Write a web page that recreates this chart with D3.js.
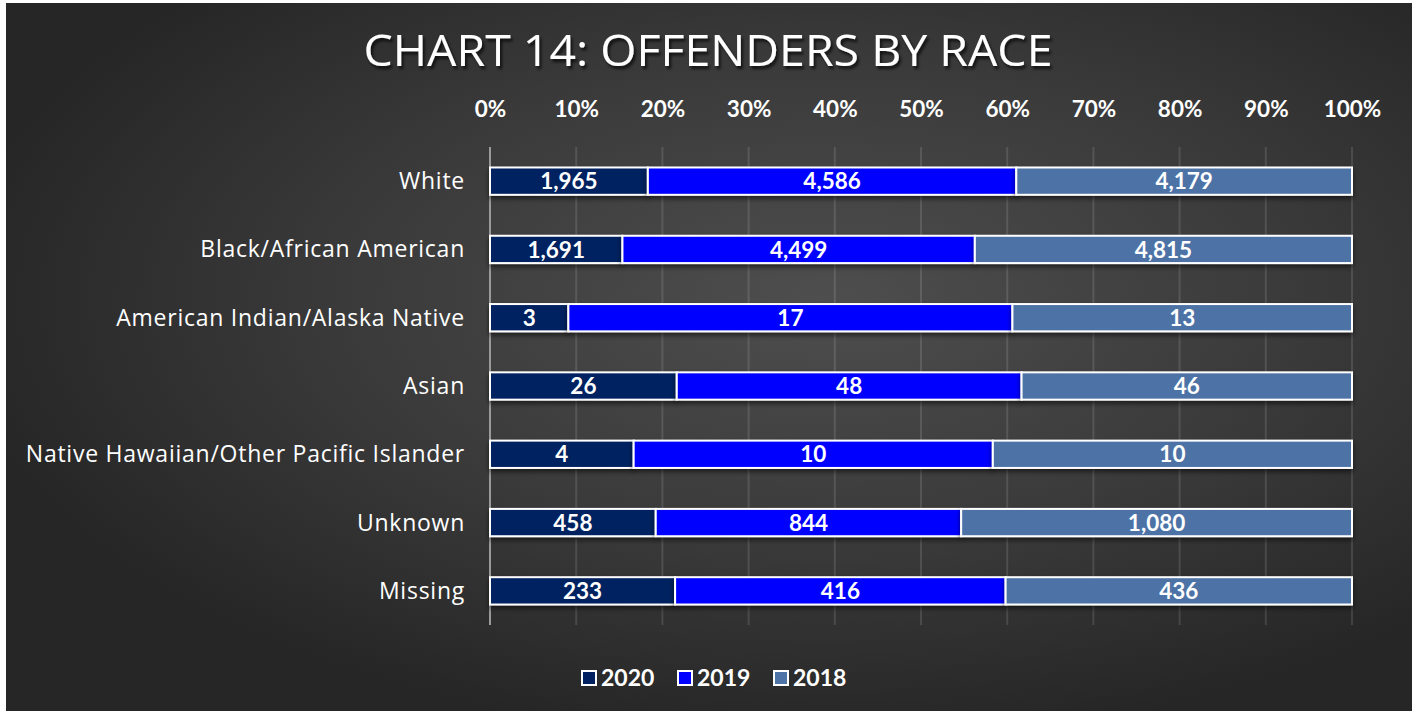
<!DOCTYPE html>
<html><head><meta charset="utf-8">
<script src="https://cdn.jsdelivr.net/npm/d3@7"></script>
<style>html,body{margin:0;padding:0;background:#fff;}svg{display:block;}</style>
</head><body>
<script>
const categories = ["White","Black/African American","American Indian/Alaska Native","Asian","Native Hawaiian/Other Pacific Islander","Unknown","Missing"];
const seriesNames = ["2020","2019","2018"];
const values2020 = [1965,1691,3,26,4,458,233];
const values2019 = [4586,4499,17,48,10,844,416];
const values2018 = [4179,4815,13,46,10,1080,436];
const tickValues = [0,0.1,0.2,0.3,0.4,0.5,0.6,0.7,0.8,0.9,1.0];
const colors = ["#002060","#0000FF","#4E73A6"];
const titleText = "CHART 14: OFFENDERS BY RACE";

const W=1416,H=714;
const svg=d3.select("body").append("svg").attr("width",W).attr("height",H);
const defs=svg.append("defs");
const rg=defs.append("radialGradient").attr("id","bg").attr("cx","0.58").attr("cy","0.42").attr("r","0.62");
rg.append("stop").attr("offset","0").attr("stop-color","#4e4e4e");
rg.append("stop").attr("offset","0.55").attr("stop-color","#3a3a3a");
rg.append("stop").attr("offset","1").attr("stop-color","#262626");
const sh=defs.append("filter").attr("id","sh").attr("x","-5%").attr("y","-30%").attr("width","110%").attr("height","180%");
sh.append("feDropShadow").attr("dx",0).attr("dy",3).attr("stdDeviation",2.5).attr("flood-color","#000").attr("flood-opacity",0.55);
const tsh=defs.append("filter").attr("id","tsh").attr("x","-5%").attr("y","-30%").attr("width","110%").attr("height","180%");
tsh.append("feDropShadow").attr("dx",2).attr("dy",3).attr("stdDeviation",1.5).attr("flood-color","#000").attr("flood-opacity",0.7);

svg.append("rect").attr("x",6).attr("y",3).attr("width",1406).attr("height",708).attr("fill","url(#bg)");

const data=categories.map((c,i)=>{
  const v=[values2020[i],values2019[i],values2018[i]];
  const tot=d3.sum(v);
  let acc=0;
  const segs=v.map((val,j)=>{const s={cat:c,series:j,value:val,x0:acc/tot,x1:(acc+val)/tot};acc+=val;return s;});
  return {cat:c,segs};
});

const x=d3.scaleLinear().domain([0,1]).range([490,1352]);
const y=d3.scaleBand().domain(categories).range([147,625]).paddingInner(0.6).paddingOuter(0.3);

// gridlines
svg.append("g").selectAll("line").data(tickValues.slice(1)).join("line")
  .attr("x1",d=>x(d)).attr("x2",d=>x(d)).attr("y1",147).attr("y2",625)
  .attr("stroke","rgba(255,255,255,0.12)").attr("stroke-width",2);
svg.append("line").attr("x1",x(0)).attr("x2",x(0)).attr("y1",147).attr("y2",625)
  .attr("stroke","#9a9a9a").attr("stroke-width",2);

// top axis
const axis=d3.axisTop(x).tickValues(tickValues).tickFormat(d3.format(".0%")).tickSize(0);
const ag=svg.append("g").attr("transform","translate(0,120)").call(axis);
ag.select(".domain").remove();
ag.selectAll("text").attr("fill","#fff").attr("font-family","Lato, 'Open Sans', sans-serif")
  .attr("font-weight",700).attr("font-size",22.5).attr("dy",0);

// bars
const rows=svg.append("g").selectAll("g").data(data).join("g");
rows.selectAll("rect").data(d=>d.segs).join("rect")
  .attr("x",d=>x(d.x0)).attr("width",d=>x(d.x1)-x(d.x0))
  .attr("y",d=>y(d.cat)).attr("height",y.bandwidth())
  .attr("fill",d=>colors[d.series]).attr("stroke","#fff").attr("stroke-width",2)
  .attr("filter","url(#sh)");
rows.selectAll("text").data(d=>d.segs).join("text")
  .attr("x",d=>(x(d.x0)+x(d.x1))/2).attr("y",d=>y(d.cat)+y.bandwidth()/2)
  .attr("dy","0.36em").attr("text-anchor","middle").attr("fill","#fff")
  .attr("font-family","Lato, 'Open Sans', sans-serif").attr("font-weight",700).attr("font-size",22.5)
  .text(d=>d3.format(",")(d.value));

// category labels
svg.append("g").selectAll("text").data(categories).join("text")
  .attr("x",465).attr("y",d=>y(d)+y.bandwidth()/2).attr("dy","0.35em")
  .attr("text-anchor","end").attr("fill","#fff")
  .attr("font-family","'Open Sans', Lato, sans-serif").attr("font-size",23).attr("letter-spacing",0.75)
  .text(d=>d);

// title
svg.append("text").attr("x",708).attr("y",66).attr("text-anchor","middle")
  .attr("fill","#fff").attr("font-family","'Open Sans', Lato, sans-serif").attr("font-size",43)
  .attr("textLength",689).attr("lengthAdjust","spacingAndGlyphs")
  .attr("filter","url(#tsh)").text(titleText);

// legend
const legX=[581,677,773];
const lg=svg.append("g").selectAll("g").data(seriesNames).join("g")
  .attr("transform",(d,i)=>`translate(${legX[i]},678)`);
lg.append("rect").attr("x",1).attr("y",-7).attr("width",14).attr("height",14)
  .attr("fill",(d,i)=>colors[i]).attr("stroke","#fff").attr("stroke-width",2);
lg.append("text").attr("x",20).attr("y",0).attr("dy","0.36em").attr("fill","#fff")
  .attr("font-family","Lato, 'Open Sans', sans-serif").attr("font-weight",700).attr("font-size",23)
  .text(d=>d);
</script>
</body></html>
